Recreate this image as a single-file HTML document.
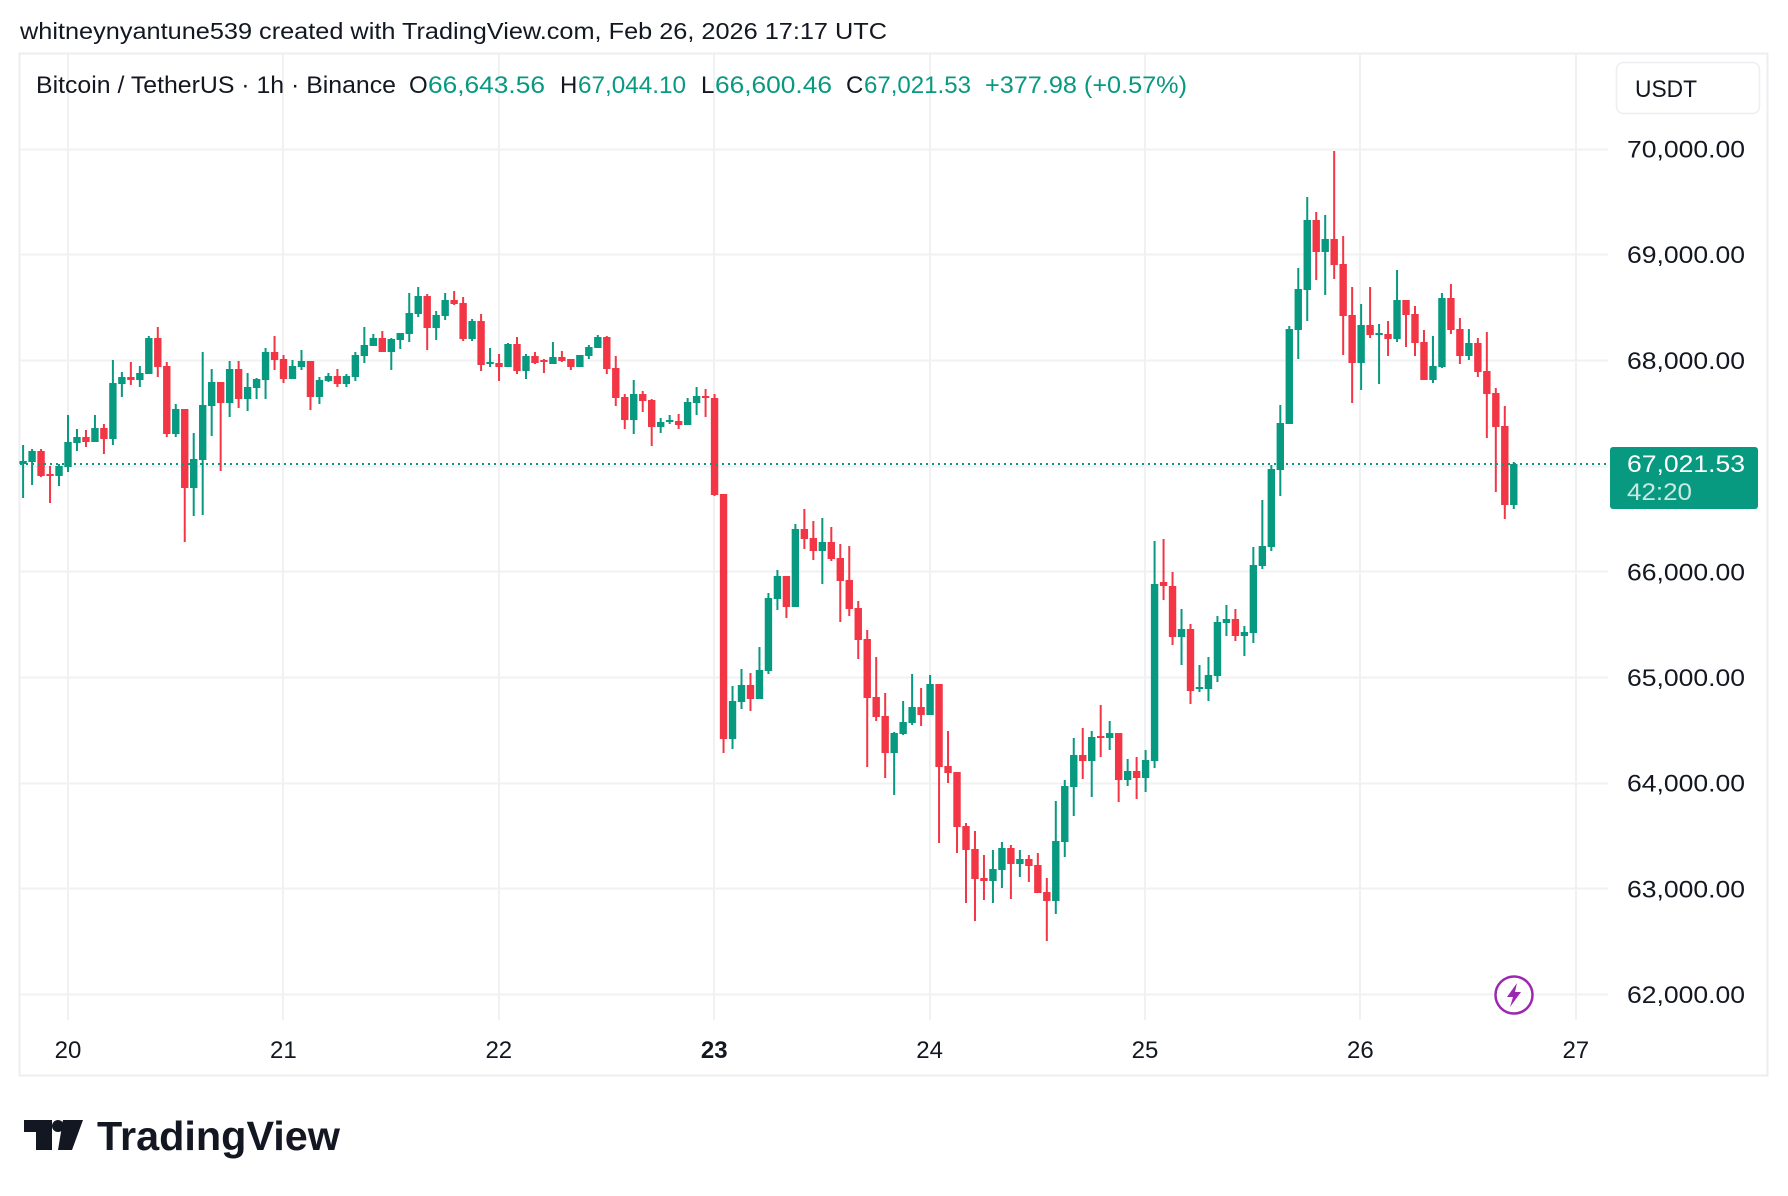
<!DOCTYPE html>
<html><head><meta charset="utf-8"><style>
html,body{margin:0;padding:0;background:#fff;}
svg{display:block;font-family:"Liberation Sans",sans-serif;}
</style></head><body>
<svg id="s" width="1788" height="1196" viewBox="0 0 1788 1196" xmlns="http://www.w3.org/2000/svg">
<rect x="0" y="0" width="1788" height="1196" fill="#fff"/>
<text x="20" y="39" font-size="23" fill="#131722" textLength="867" lengthAdjust="spacingAndGlyphs">whitneynyantune539 created with TradingView.com, Feb 26, 2026 17:17 UTC</text>
<rect x="19.5" y="53.5" width="1748" height="1022" fill="none" stroke="#eceef2" stroke-width="2"/>
<g id="grid"></g>
<g id="candles"></g>
<line x1="20" y1="464" x2="1610" y2="464" stroke="#089981" stroke-width="2" stroke-dasharray="2 4"/>
<g font-size="24" fill="#131722">
<text x="36" y="93" textLength="360" lengthAdjust="spacingAndGlyphs">Bitcoin / TetherUS · 1h · Binance</text>
<text x="409" y="93">O</text>
<text x="428" y="93" fill="#089981" textLength="117" lengthAdjust="spacingAndGlyphs">66,643.56</text>
<text x="560" y="93">H</text>
<text x="578" y="93" fill="#089981" textLength="108" lengthAdjust="spacingAndGlyphs">67,044.10</text>
<text x="701" y="93">L</text>
<text x="715" y="93" fill="#089981" textLength="117" lengthAdjust="spacingAndGlyphs">66,600.46</text>
<text x="846" y="93">C</text>
<text x="864" y="93" fill="#089981" textLength="107" lengthAdjust="spacingAndGlyphs">67,021.53</text>
<text x="985" y="93" fill="#089981" textLength="202" lengthAdjust="spacingAndGlyphs">+377.98 (+0.57%)</text>
</g>
<rect x="1616.5" y="62.5" width="143" height="51" rx="7" fill="#fff" stroke="#eceef2" stroke-width="1.5"/>
<text x="1635" y="97" font-size="24" fill="#131722" textLength="62" lengthAdjust="spacingAndGlyphs">USDT</text>
<g id="ylab" font-size="24" fill="#131722"></g>
<g id="xlab" font-size="24" fill="#131722" text-anchor="middle"></g>
<rect x="1610" y="447" width="148" height="62" rx="3" fill="#089981"/>
<text x="1627" y="472" font-size="24" fill="#fff" textLength="118" lengthAdjust="spacingAndGlyphs">67,021.53</text>
<text x="1627" y="500" font-size="24" fill="#fff" fill-opacity="0.78" textLength="65" lengthAdjust="spacingAndGlyphs">42:20</text>
<circle cx="1514" cy="995" r="18.5" fill="#fff" stroke="#9c27b0" stroke-width="2.5"/>
<path d="M1517 983 L1507 997 L1513 997 L1510 1007 L1521 992 L1515 992 Z" fill="#9c27b0"/>
<g fill="#131722">
<rect x="24" y="1120" width="28" height="12"/>
<rect x="36" y="1120" width="16" height="30"/>
<circle cx="58" cy="1126" r="6"/>
<path d="M63 1120 L83 1120 L72 1150 L58 1150 Z"/>
<text x="97" y="1150" font-size="41" font-weight="bold" textLength="243" lengthAdjust="spacingAndGlyphs">TradingView</text>
</g>
</svg>
<script>
var NS="http://www.w3.org/2000/svg";
function el(p,t,a,txt){var e=document.createElementNS(NS,t);for(var k in a)e.setAttribute(k,a[k]);if(txt!=null)e.textContent=txt;p.appendChild(e);return e;}
var grid=document.getElementById('grid');
var y0=148.5,dy=105.7;
for(var k=0;k<=8;k++){var y=Math.round(y0+k*dy)+0.5;el(grid,'line',{x1:20,y1:y,x2:1608,y2:y,stroke:'#f0f1f3','stroke-width':2});}
var xd=[];for(var d=0;d<=7;d++){xd.push(68+d*215.4);var x=Math.round(68+d*215.4);el(grid,'line',{x1:x,y1:54,x2:x,y2:1020,stroke:'#f0f1f3','stroke-width':2});}
var yl=document.getElementById('ylab');var labs=['70,000.00','69,000.00','68,000.00','67,000.00','66,000.00','65,000.00','64,000.00','63,000.00','62,000.00'];
for(var k=0;k<=8;k++){if(k==3)continue;el(yl,'text',{x:1627,y:(y0+k*dy+9).toFixed(1),textLength:118,lengthAdjust:'spacingAndGlyphs'},labs[k]);}
var xl=document.getElementById('xlab');var dl=['20','21','22','23','24','25','26','27'];
for(var d=0;d<8;d++){var a={x:xd[d].toFixed(1),y:1058};if(d==3)a['font-weight']='bold';el(xl,'text',a,dl[d]);}
var C=[[464,461,445,498],[462,451,449,485],[451,476,449,477],[474,476,466,503],[476,466,464,486],[467,442,415,472],[443,437,429,451],[437,442,430,447],[442,428,415,442],[428,439,424,454],
[439,383,360,445],[384,377,372,397],[377,380,362,385],[380,373,366,387],[374,338,336,374],[338,367,327,377],[366,434,362,437],[434,409,404,437],[409,488,409,542],[488,459,433,516],
[460,405,352,515],[406,382,369,436],[382,403,382,471],[403,369,361,417],[369,399,361,408],[399,387,373,411],[388,379,378,399],[380,352,348,399],[352,360,336,370],[359,379,355,383],
[379,366,360,379],[367,361,350,370],[361,397,361,410],[397,380,377,404],[381,376,373,382],[376,384,369,387],[384,376,374,387],[377,355,352,381],[356,345,327,363],[346,338,334,346],
[338,352,331,352],[352,339,338,370],[340,333,333,349],[334,313,293,342],[314,296,287,317],[296,328,294,350],[328,315,311,340],[316,300,293,320],[300,304,291,305],[303,339,297,341],
[339,321,319,341],[321,365,314,371],[364,362,348,367],[363,367,354,381],[367,344,343,367],[344,371,337,374],[371,356,354,379],[356,363,352,364],[360,362,359,373],[364,357,342,364],
[357,361,351,362],[359,367,359,370],[367,355,355,367],[356,347,345,359],[348,337,335,348],[337,369,336,374],[368,398,356,406],[397,420,394,429],[420,394,380,434],[394,401,391,412],
[400,427,399,446],[427,422,418,433],[422,420,415,424],[421,425,414,429],[425,402,398,425],[403,396,387,415],[396,398,389,417],[398,495,394,496],[494,739,494,753],[739,701,686,749],
[702,685,669,709],[685,699,673,711],[699,670,647,699],[671,598,593,674],[599,576,570,610],[576,607,576,618],[607,529,524,607],[529,539,509,549],[538,551,521,560],[551,542,518,584],
[542,559,527,561],[558,581,544,622],[580,609,546,616],[608,640,601,659],[639,698,630,767],[697,717,657,721],[716,753,693,778],[753,733,732,795],[734,722,701,735],[723,707,674,725],
[707,715,688,726],[715,684,675,715],[684,767,684,843],[766,773,731,783],[772,827,772,853],[826,850,823,903],[849,879,831,921],[878,881,855,900],[881,869,850,903],[870,848,842,888],
[848,864,845,899],[864,859,850,877],[859,866,855,882],[865,893,853,893],[892,901,878,941],[901,841,801,914],[842,786,780,857],[787,755,738,816],[755,761,728,779],[761,737,731,797],
[736,738,705,757],[738,733,721,750],[733,780,733,802],[780,771,759,786],[771,778,757,799],[778,760,750,792],[761,584,541,768],[582,586,539,600],[586,637,572,645],[637,629,609,665],
[629,691,624,704],[689,687,665,692],[689,675,657,701],[676,622,616,682],[623,619,605,636],[619,636,609,641],[636,632,626,656],[633,565,547,643],[566,546,500,569],[547,469,465,551],
[470,423,405,496],[424,329,326,424],[330,289,268,359],[290,220,197,321],[220,252,212,280],[252,239,215,295],[239,265,151,279],[264,316,236,355],[315,363,287,403],[363,325,304,390],
[325,335,287,338],[335,333,324,384],[334,339,321,356],[339,300,270,342],[300,315,300,347],[314,343,306,356],[342,380,330,380],[380,366,336,383],[367,298,293,368],[298,330,284,334],
[329,356,318,364],[356,343,329,360],[343,372,338,377],[371,394,332,438],[393,427,388,492],[426,505,406,519],[505,464,462,509]];
var cg=document.getElementById('candles');
for(var i=0;i<C.length;i++){var c=C[i];var cx=23.1+i*8.98;var up=c[1]<=c[0];var col=up?'#089981':'#f23645';
var by0=Math.min(c[0],c[1]),by1=Math.max(c[0],c[1]);if(by1-by0<2){by1=by0+2;}
el(cg,'rect',{x:(cx-1).toFixed(2),y:c[2],width:2,height:Math.max(1,c[3]-c[2]),fill:col});
el(cg,'rect',{x:(cx-3.7).toFixed(2),y:by0,width:7.4,height:by1-by0,fill:col});}
</script>
</body></html>
